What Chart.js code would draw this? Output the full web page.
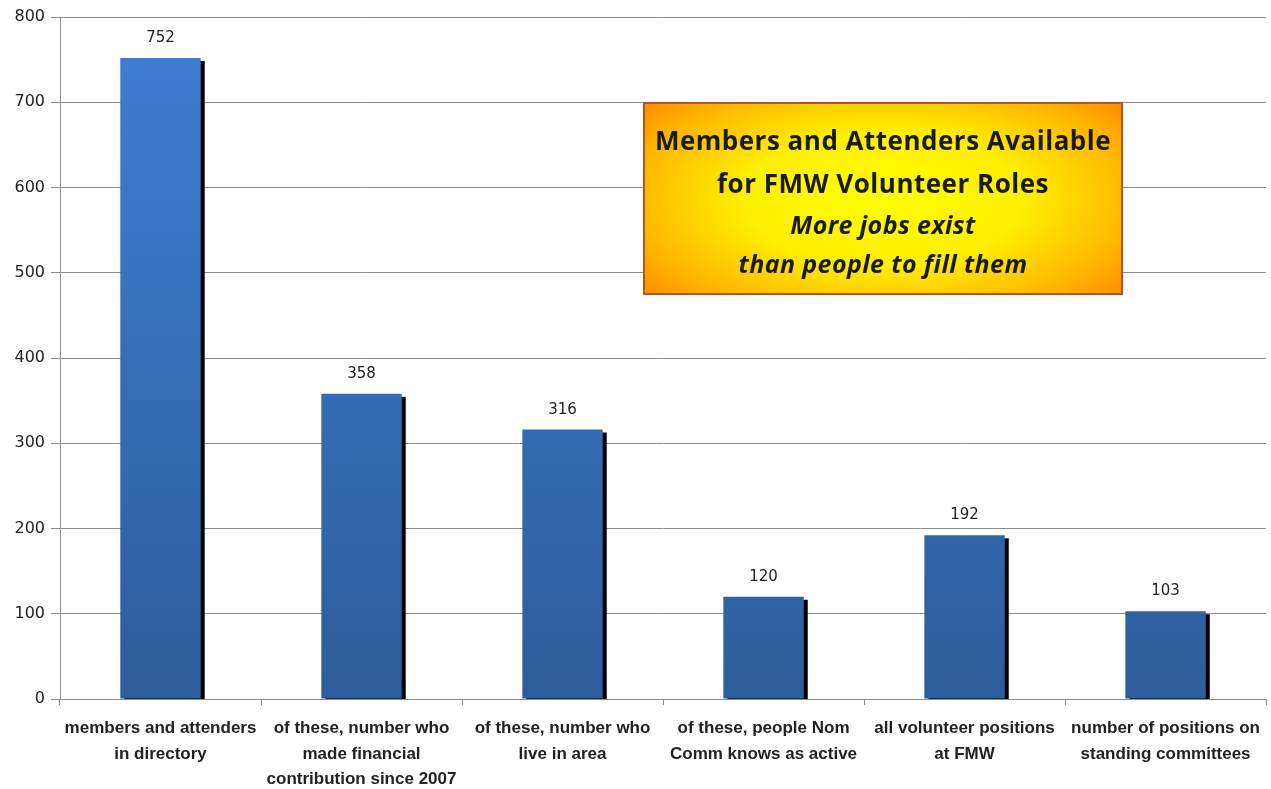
<!DOCTYPE html>
<html>
<head>
<meta charset="utf-8">
<script src="https://cdn.jsdelivr.net/npm/chart.js@4/dist/chart.umd.min.js"></script>
<style>
  html, body { margin: 0; padding: 0; background: #fff; }
  #wrap { position: relative; width: 1271px; height: 789px; }
  #note {
    position: absolute; left: 643px; top: 102px; width: 476px; height: 189px;
    border: 2px solid #b4561c;
    background: radial-gradient(ellipse 65% 78% at 50% 50%, #ffff00 0%, #ffef00 45%, #ffb800 80%, #ff8f00 100%);
    font-family: "Open Sans", "Noto Sans", sans-serif; color: #1a1a1a; text-align: center;
    box-sizing: content-box;
  }
  #note .t { font-weight: 700; font-size: 26px; line-height: 43px; letter-spacing: 0.5px; }
  #note .s { font-weight: 700; font-style: italic; font-size: 25px; line-height: 39px; letter-spacing: 0.4px; }
</style>
</head>
<body>
<div id="wrap">
  <canvas id="c" width="1271" height="789"></canvas>
  <div id="note">
    <div style="height:15px"></div>
    <div class="t">Members and Attenders Available</div>
    <div class="t">for FMW Volunteer Roles</div>
    <div class="s">More jobs exist</div>
    <div class="s">than people to fill them</div>
  </div>
</div>
<script>
const categories = [
  ["members and attenders", "in directory"],
  ["of these, number who", "made financial", "contribution since 2007"],
  ["of these, number who", "live in area"],
  ["of these, people Nom", "Comm knows as active"],
  ["all volunteer positions", "at FMW"],
  ["number of positions on", "standing committees"]
];
const values = [752, 358, 316, 120, 192, 103];
const yTicks = [0, 100, 200, 300, 400, 500, 600, 700, 800];

function barGradient(ctx) {
  const chart = ctx.chart;
  const area = chart.chartArea;
  if (!area) return '#3a75c4';
  const g = chart.ctx.createLinearGradient(0, area.top, 0, area.bottom);
  g.addColorStop(0, '#3e80d4');
  g.addColorStop(1, '#2d5d9c');
  return g;
}

const shadowPlugin = {
  id: 'barShadow',
  beforeDatasetsDraw(chart) {
    const c = chart.ctx;
    c.save();
    c.shadowColor = '#000000';
    c.shadowOffsetX = 4;
    c.shadowOffsetY = 3;
    c.shadowBlur = 0;
  },
  afterDatasetsDraw(chart) {
    chart.ctx.restore();
    const c = chart.ctx;
    const meta = chart.getDatasetMeta(0);
    c.save();
    c.font = '15px "DejaVu Sans", sans-serif';
    c.fillStyle = '#222';
    c.textAlign = 'center';
    c.textBaseline = 'middle';
    meta.data.forEach((bar, i) => {
      c.fillText(String(values[i]), bar.x, bar.y - 20);
    });
    c.restore();
  }
};

new Chart(document.getElementById('c'), {
  type: 'bar',
  data: {
    labels: categories,
    datasets: [{
      data: values,
      backgroundColor: barGradient,
      borderWidth: 0,
      barPercentage: 0.4,
      categoryPercentage: 1.0
    }]
  },
  options: {
    responsive: false,
    animation: false,
    devicePixelRatio: 1,
    layout: { padding: { top: 17, right: 0, left: 0, bottom: 0 } },
    plugins: { legend: { display: false }, tooltip: { enabled: false } },
    scales: {
      y: {
        min: 0, max: 800,
        afterBuildTicks(scale) { scale.ticks = yTicks.map(v => ({ value: v })); },
        afterFit(scale) { scale.width = 60; },
        grid: { color: '#8c8c8c', lineWidth: 1, tickLength: 9, drawTicks: true },
        border: { color: '#8c8c8c', width: 1 },
        ticks: {
          color: '#222',
          font: { family: '"DejaVu Sans", sans-serif', size: 16 },
          padding: 6
        }
      },
      x: {
        afterFit(scale) { scale.height = 90; },
        grid: { display: true, offset: true, drawOnChartArea: false, tickLength: 6, color: '#8c8c8c' },
        border: { color: '#8c8c8c', width: 1 },
        ticks: {
          color: '#222',
          maxRotation: 0,
          autoSkip: false,
          padding: 11,
          font: { family: '"Liberation Sans Narrow", "Arial Narrow", "Liberation Sans", sans-serif', size: 17, weight: 'bold', lineHeight: 1.5 }
        }
      }
    }
  },
  plugins: [shadowPlugin]
});
</script>
</body>
</html>
